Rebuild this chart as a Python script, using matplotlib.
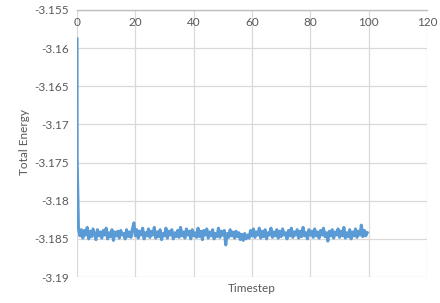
import numpy as np
import matplotlib
matplotlib.use('Agg')
import matplotlib.pyplot as plt

plt.rcParams['font.family'] = ['Lato', 'DejaVu Sans']

# total energy, first two samples at the very start, then one every 0.5 timestep
energy = [
    -3.1588, -3.1745, -3.1836, -3.1846, -3.1838, -3.1849, -3.1839, -3.1845, -3.1835, -3.1850,
    -3.1840, -3.1847, -3.1837, -3.1844, -3.1851, -3.1838, -3.1846, -3.1841, -3.1849, -3.1839,
    -3.1845, -3.1836, -3.1850, -3.1842, -3.1847, -3.1838, -3.1852, -3.1841, -3.1846, -3.1840,
    -3.1849, -3.1839, -3.1845, -3.1843, -3.1850, -3.1838, -3.1847, -3.1841, -3.1848, -3.1837,
    -3.1829, -3.1846, -3.1838, -3.1849, -3.1840, -3.1845, -3.1836, -3.1850, -3.1842, -3.1846,
    -3.1837, -3.1848, -3.1840, -3.1845, -3.1835, -3.1849, -3.1841, -3.1847, -3.1838, -3.1851,
    -3.1843, -3.1846, -3.1836, -3.1849, -3.1840, -3.1845, -3.1838, -3.1850, -3.1842, -3.1847,
    -3.1839, -3.1848, -3.1835, -3.1846, -3.1841, -3.1849, -3.1837, -3.1845, -3.1840, -3.1850,
    -3.1838, -3.1846, -3.1842, -3.1848, -3.1836, -3.1847, -3.1840, -3.1851, -3.1839, -3.1845,
    -3.1837, -3.1849, -3.1841, -3.1846, -3.1838, -3.1850, -3.1843, -3.1847, -3.1836, -3.1848,
    -3.1840, -3.1845, -3.1839, -3.1858, -3.1843, -3.1848, -3.1838, -3.1846, -3.1841, -3.1849,
    -3.1840, -3.1847, -3.1842, -3.1851, -3.1844, -3.1852, -3.1843, -3.1850, -3.1845, -3.1849,
    -3.1839, -3.1846, -3.1837, -3.1848, -3.1841, -3.1845, -3.1836, -3.1849, -3.1840, -3.1847,
    -3.1838, -3.1850, -3.1842, -3.1845, -3.1836, -3.1848, -3.1841, -3.1846, -3.1838, -3.1849,
    -3.1840, -3.1847, -3.1837, -3.1845, -3.1842, -3.1850, -3.1839, -3.1846, -3.1836, -3.1848,
    -3.1841, -3.1845, -3.1838, -3.1849, -3.1840, -3.1847, -3.1835, -3.1846, -3.1842, -3.1850,
    -3.1838, -3.1845, -3.1840, -3.1848, -3.1837, -3.1846, -3.1841, -3.1849, -3.1839, -3.1845,
    -3.1836, -3.1847, -3.1842, -3.1853, -3.1840, -3.1846, -3.1838, -3.1849, -3.1841, -3.1845,
    -3.1837, -3.1848, -3.1840, -3.1846, -3.1835, -3.1849, -3.1842, -3.1847, -3.1838, -3.1850,
    -3.1841, -3.1846, -3.1837, -3.1848, -3.1840, -3.1845, -3.1832, -3.1847, -3.1839, -3.1846,
    -3.1842,
]
timestep = np.concatenate([[0.0, 0.05], np.arange(1, len(energy) - 1) * 0.5])

xticks = [0, 20, 40, 60, 80, 100, 120]
yticks = [-3.155, -3.16, -3.165, -3.17, -3.175, -3.18, -3.185, -3.19]
ylabels = ['-3.155', '-3.16', '-3.165', '-3.17', '-3.175', '-3.18', '-3.185', '-3.19']

fig = plt.figure(figsize=(4.4, 3.03), dpi=100)
ax = fig.add_axes([77/440, 1 - 277/303, 350/440, 267/303])

ax.plot(timestep, energy, color='#5b9bd5', lw=2.2, zorder=3)

ax.set_xlim(0, 120)
ax.set_ylim(-3.19, -3.155)
ax.set_xticks(xticks)
ax.set_xticklabels([str(t) for t in xticks])
ax.set_yticks(yticks)
ax.set_yticklabels(ylabels)

ax.grid(True, color='#d9d9d9', lw=0.9)
ax.set_axisbelow(True)
for s in ['bottom', 'right', 'left']:
    ax.spines[s].set_visible(False)
ax.spines['top'].set_color('#bfbfbf')
ax.spines['top'].set_linewidth(1.0)

ax.tick_params(axis='x', top=True, bottom=False, labeltop=True, labelbottom=False,
               length=0, pad=-13, labelsize=8.5, colors='#595959')
ax.tick_params(axis='y', length=0, pad=6, labelsize=8.5, colors='#595959')

fig.text(252/440, 1 - 289/303, 'Timestep', ha='center', va='center',
         fontsize=8.5, color='#595959')
fig.text(25/440, 1 - 142/303, 'Total Energy', ha='center', va='center',
         rotation=90, fontsize=8.5, color='#595959')

fig.savefig('out.png', dpi=100)
